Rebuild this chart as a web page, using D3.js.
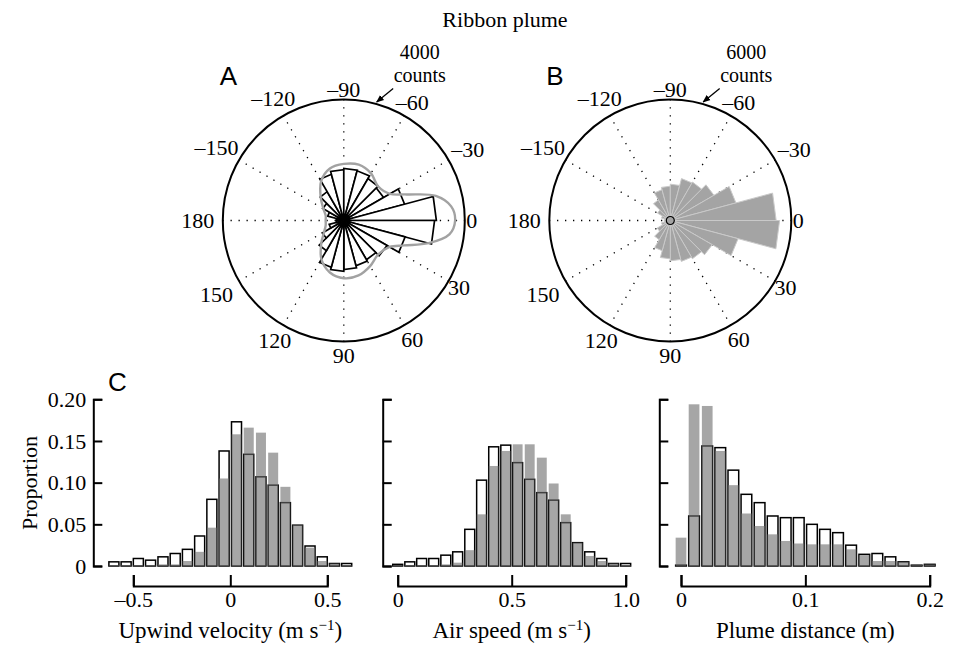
<!DOCTYPE html>
<html>
<head>
<meta charset="utf-8">
<script src="https://cdn.jsdelivr.net/npm/d3@7/dist/d3.min.js"></script>
<style>
  body { margin: 0; background: #fff; }
  text { font-family: "Liberation Serif", "Times New Roman", serif; font-size: 22px; fill: #000; }
  .panel { font-family: "Liberation Sans", Arial, sans-serif; font-size: 26px; }
  .count-label { font-size: 20px; }
</style>
</head>
<body>
<svg></svg>
<script>
const width = 959;
const height = 651;

// rose plots: 15 degree bins, 0 = upwind, positive clockwise on screen
const roseBins = [-172.5, -157.5, -142.5, -127.5, -112.5, -97.5, -82.5, -67.5, -52.5, -37.5, -22.5, -7.5,
  7.5, 22.5, 37.5, 52.5, 67.5, 82.5, 97.5, 112.5, 127.5, 142.5, 157.5, 172.5];
const roseCountsA = [250, 550, 800, 1100, 1580, 1680, 1720, 1700, 1600, 1520, 2080, 3060,
  3000, 2100, 1650, 1500, 1550, 1620, 1680, 1600, 1150, 820, 500, 250];
const roseCountsB = [300, 450, 730, 1180, 1580, 1700, 1800, 2150, 2200, 2500, 3370, 5250,
  5420, 3480, 2400, 2190, 2100, 2000, 1900, 1550, 1100, 750, 450, 300];

const fitAngles = [-180, -165, -150, -135, -120, -105, -90, -75, -60, -45, -30, -22.5, -15, -7.5,
  0, 7.5, 15, 22.5, 30, 45, 60, 75, 90, 105, 120, 135, 150, 165];
const fitCountsA = [600, 620, 780, 1080, 1500, 1780, 1870, 1910, 1800, 1600, 1760, 2250, 3150, 3580,
  3680, 3520, 2900, 2150, 1750, 1600, 1740, 1880, 1910, 1780, 1480, 1050, 750, 620];

const spokeAngles = [0, 30, 60, 90, 120, 150, 180, 210, 240, 270, 300, 330];
const polarTickAngles = [0, 30, 60, 90, 120, 150, 180, -150, -120, -90, -60, -30];
const polarTickLabels = ["0", "30", "60", "90", "120", "150", "180", "\u2013150", "\u2013120", "\u201390", "\u201360", "\u201330"];

// histograms (proportion)
const velocityBins = [-0.600, -0.537, -0.474, -0.411, -0.347, -0.284, -0.221, -0.158, -0.095, -0.032,
  0.032, 0.095, 0.158, 0.221, 0.284, 0.347, 0.411, 0.474, 0.537, 0.600];
const velocityWhite = [0.005, 0.005, 0.009, 0.007, 0.011, 0.015, 0.020, 0.036, 0.080, 0.138,
  0.173, 0.134, 0.107, 0.097, 0.076, 0.049, 0.024, 0.011, 0.003, 0.003];
const velocityGray = [0.001, 0.001, 0.001, 0.001, 0.002, 0.002, 0.006, 0.017, 0.046, 0.105,
  0.158, 0.166, 0.160, 0.136, 0.095, 0.050, 0.022, 0.006, 0.003, 0.001];

const airSpeedBins = [0, 0.053, 0.105, 0.158, 0.211, 0.263, 0.316, 0.368, 0.421, 0.474,
  0.526, 0.579, 0.632, 0.684, 0.737, 0.789, 0.842, 0.895, 0.947, 1.0];
const airSpeedWhite = [0.002, 0.005, 0.009, 0.009, 0.013, 0.017, 0.044, 0.103, 0.143, 0.145,
  0.124, 0.104, 0.088, 0.079, 0.052, 0.028, 0.017, 0.009, 0.003, 0.003];
const airSpeedGray = [0.001, 0.001, 0.001, 0.001, 0.002, 0.004, 0.019, 0.062, 0.120, 0.138,
  0.146, 0.146, 0.130, 0.099, 0.062, 0.028, 0.012, 0.006, 0.003, 0.001];

const distanceBins = [0, 0.0105, 0.0211, 0.0316, 0.0421, 0.0526, 0.0632, 0.0737, 0.0842, 0.0947,
  0.1053, 0.1158, 0.1263, 0.1368, 0.1474, 0.1579, 0.1684, 0.1789, 0.1895, 0.2];
const distanceWhite = [0.001, 0.060, 0.144, 0.142, 0.115, 0.086, 0.076, 0.060, 0.058, 0.058,
  0.050, 0.044, 0.040, 0.025, 0.014, 0.015, 0.011, 0.005, 0.001, 0.002];
const distanceGray = [0.034, 0.194, 0.192, 0.138, 0.097, 0.063, 0.048, 0.038, 0.030, 0.027,
  0.026, 0.026, 0.026, 0.020, 0.013, 0.006, 0.006, 0.005, 0.002, 0.002];

const yTicks = [0, 0.05, 0.1, 0.15, 0.2];
const yTickLabels = ["0", "0.05", "0.10", "0.15", "0.20"];

const svg = d3.select("svg").attr("width", width).attr("height", height);

svg.append("text")
  .attr("x", 505)
  .attr("y", 27)
  .style("text-anchor", "middle")
  .text("Ribbon plume");

const radius = 121;
// distance of each angle label from the centre, in pixels
const labelRadius = [128, 133, 137, 135, 138, 147, 146, 147, 141, 131, 137, 143];
const rad = (deg) => (deg * Math.PI) / 180;

function drawRose(cx, cy, maxCount, counts, filled, fit, letter) {
  const g = svg.append("g").attr("transform", "translate(" + cx + "," + cy + ")");
  const r = d3.scaleLinear().domain([0, maxCount]).range([0, radius]);
  const pt = (deg, v) => [r(v) * Math.cos(rad(deg)), r(v) * Math.sin(rad(deg))];

  const spokes = g.append("g")
    .selectAll("line")
    .data(spokeAngles)
    .enter()
    .append("line")
    .attr("x1", 0)
    .attr("y1", 0)
    .attr("x2", (d) => pt(d, maxCount)[0])
    .attr("y2", (d) => pt(d, maxCount)[1])
    .attr("stroke", "#000")
    .attr("stroke-width", 1.3)
    .attr("stroke-dasharray", "1.3,6.7");

  g.append("g")
    .selectAll("path")
    .data(roseBins)
    .enter()
    .append("path")
    .attr("d", (d, i) => {
      const a = pt(d - 7.5, counts[i]);
      const b = pt(d + 7.5, counts[i]);
      return "M0,0L" + a[0] + "," + a[1] + "L" + b[0] + "," + b[1] + "Z";
    })
    .attr("fill", filled ? "#a4a4a4" : "#fff")
    .attr("stroke", filled ? "#c9c9c9" : "#000")
    .attr("stroke-width", filled ? 1 : 1.7)
    .attr("stroke-linejoin", "miter");

  if (filled) {
    spokes.raise();
    g.append("circle")
      .attr("r", 4)
      .attr("fill", "#a4a4a4")
      .attr("stroke", "#000")
      .attr("stroke-width", 1.2);
  }

  if (fit) {
    const line = d3.lineRadial()
      .angle((d) => rad(d[0] + 90))
      .radius((d) => r(d[1]))
      .curve(d3.curveCatmullRomClosed);
    g.append("path")
      .attr("d", line(fit))
      .attr("fill", "none")
      .attr("stroke", "#a2a2a2")
      .attr("stroke-width", 2.4);
  }

  g.append("circle")
    .attr("r", r(maxCount))
    .attr("fill", "none")
    .attr("stroke", "#000")
    .attr("stroke-width", 2);

  g.selectAll(".tick-label")
    .data(polarTickAngles)
    .enter()
    .append("text")
    .attr("x", (d, i) => labelRadius[i] * Math.cos(rad(d)))
    .attr("y", (d, i) => labelRadius[i] * Math.sin(rad(d)))
    .attr("dy", "0.35em")
    .style("text-anchor", "middle")
    .text((d, i) => polarTickLabels[i]);

  g.append("text").attr("class", "count-label").attr("x", 76).attr("y", -162)
    .style("text-anchor", "middle").text(maxCount);
  g.append("text").attr("class", "count-label").attr("x", 76).attr("y", -139)
    .style("text-anchor", "middle").text("counts");

  const a0 = [141 * Math.cos(rad(-69.5)), 141 * Math.sin(rad(-69.5))];
  const a1 = [123 * Math.cos(rad(-74.5)), 123 * Math.sin(rad(-74.5))];
  g.append("line")
    .attr("x1", a0[0]).attr("y1", a0[1])
    .attr("x2", a1[0]).attr("y2", a1[1])
    .attr("stroke", "#000")
    .attr("stroke-width", 1.3)
    .attr("marker-end", "url(#arrow)");

  svg.append("text")
    .attr("class", "panel")
    .attr("x", cx - 124)
    .attr("y", 85)
    .text(letter);
}

svg.append("defs")
  .append("marker")
  .attr("id", "arrow")
  .attr("viewBox", "0 0 10 10")
  .attr("refX", 9)
  .attr("refY", 5)
  .attr("markerWidth", 6)
  .attr("markerHeight", 6)
  .attr("orient", "auto")
  .append("path")
  .attr("d", "M0,1L10,5L0,9Z")
  .attr("fill", "#000");

drawRose(343.8, 220.5, 4000, roseCountsA, false, fitAngles.map((d, i) => [d, fitCountsA[i]]), "A");
drawRose(670.3, 220.5, 6000, roseCountsB, true, null, "B");

// histograms
const yScale = d3.scaleLinear().domain([0, 0.2]).range([566, 399.3]);
const xAxisY = 586;

function drawHist(bins, white, gray, axisX, domain, range, ticks, tickLabels, label, showY) {
  const xScale = d3.scaleLinear().domain(domain).range(range);
  const step = xScale(bins[1]) - xScale(bins[0]);
  const w = step * 0.82;
  const g = svg.append("g");

  g.append("g")
    .selectAll("rect")
    .data(white)
    .enter()
    .append("rect")
    .attr("x", (d, i) => xScale(bins[i]) - w / 2)
    .attr("y", (d) => yScale(d))
    .attr("width", w)
    .attr("height", (d) => yScale(0) - yScale(d))
    .attr("fill", "#fff")
    .attr("stroke", "#000")
    .attr("stroke-width", 1.5);

  g.append("g")
    .selectAll("rect")
    .data(gray)
    .enter()
    .append("rect")
    .attr("x", (d, i) => xScale(bins[i]) - w / 2)
    .attr("y", (d) => yScale(d))
    .attr("width", w)
    .attr("height", (d) => yScale(0) - yScale(d))
    .attr("fill", "#6b6b6b")
    .attr("fill-opacity", 0.6);

  const yAxis = d3.axisLeft(yScale)
    .tickValues(yTicks)
    .tickSizeInner(-9)
    .tickSizeOuter(-9)
    .tickPadding(7)
    .tickFormat((d, i) => (showY ? yTickLabels[i] : ""));
  const ya = g.append("g")
    .attr("transform", "translate(" + axisX + ",0)")
    .call(yAxis)
    .attr("font-size", null)
    .attr("font-family", null);
  ya.selectAll("path, line").attr("stroke-width", 2);

  const xAxis = d3.axisBottom(xScale)
    .tickValues(ticks)
    .tickSizeInner(-11)
    .tickSizeOuter(-11)
    .tickPadding(5)
    .tickFormat((d, i) => tickLabels[i]);
  const xa = g.append("g")
    .attr("transform", "translate(0," + xAxisY + ")")
    .call(xAxis)
    .attr("font-size", null)
    .attr("font-family", null);
  xa.selectAll("path, line").attr("stroke-width", 2);

  const t = g.append("text")
    .attr("x", (range[0] + range[1]) / 2)
    .attr("y", 638)
    .style("text-anchor", "middle")
    .style("font-size", "23px")
    .text(label[0]);
  if (label[1]) {
    t.append("tspan").attr("dy", -8).style("font-size", "15px").text("\u22121");
    t.append("tspan").attr("dy", 8).text(")");
  }
}

drawHist(velocityBins, velocityWhite, velocityGray, 93.3, [-0.5, 0.5], [133.3, 327.3],
  [-0.5, 0, 0.5], ["\u20130.5", "0", "0.5"], ["Upwind velocity (m s", true], true);
drawHist(airSpeedBins, airSpeedWhite, airSpeedGray, 382.7, [0, 1], [397.7, 625.7],
  [0, 0.5, 1], ["0", "0.5", "1.0"], ["Air speed (m s", true], false);
drawHist(distanceBins, distanceWhite, distanceGray, 659.3, [0, 0.2], [681, 929.7],
  [0, 0.1, 0.2], ["0", "0.1", "0.2"], ["Plume distance (m)", false], false);

svg.append("text")
  .attr("transform", "translate(37,483) rotate(-90)")
  .style("text-anchor", "middle")
  .text("Proportion");

svg.append("text")
  .attr("class", "panel")
  .attr("x", 108)
  .attr("y", 391)
  .text("C");
</script>
</body>
</html>
